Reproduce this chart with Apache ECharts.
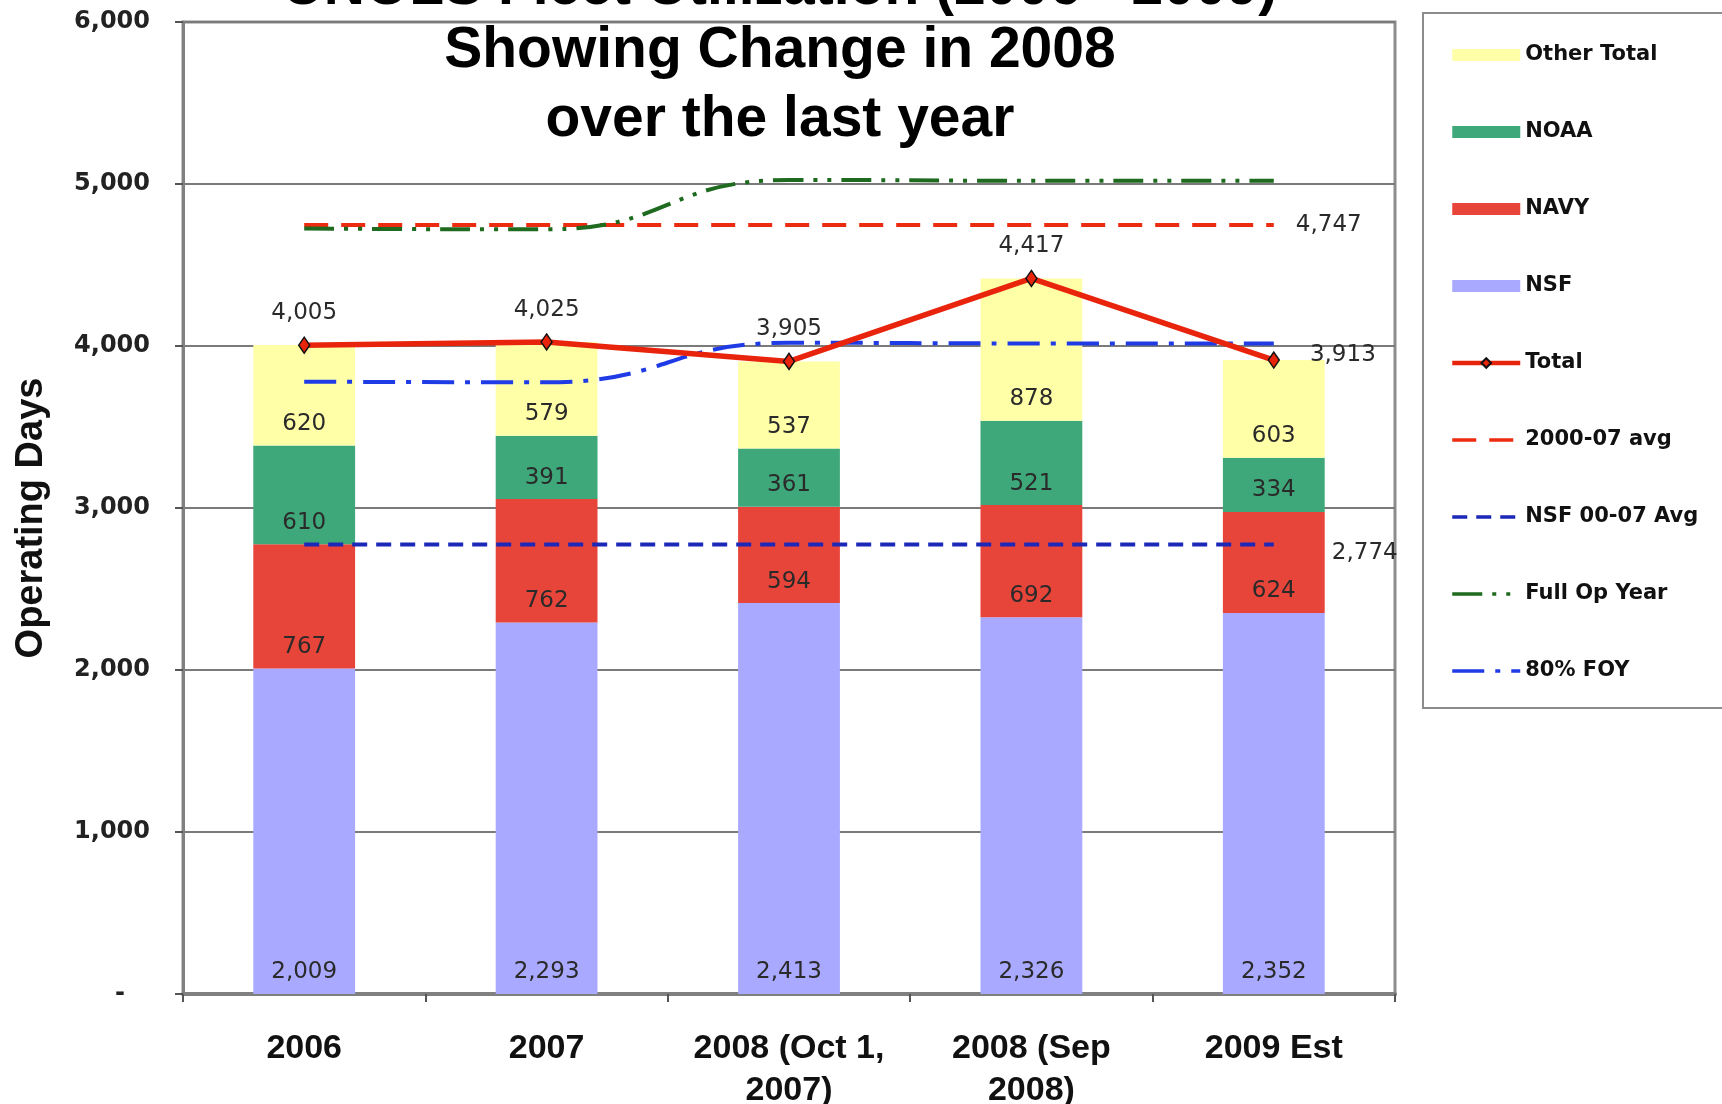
<!DOCTYPE html>
<html>
<head>
<meta charset="utf-8">
<title>UNOLS Fleet Utilization</title>
<script src="https://cdn.jsdelivr.net/npm/echarts@6/dist/echarts.min.js"></script>
<style>
  html, body { margin: 0; padding: 0; background: #fff; }
  #chart { width: 1722px; height: 1104px; }
</style>
</head>
<body>
<div id="chart"></div>
<script>
// chart data
const categories = ["2006", "2007", "2008 (Oct 1,\n2007)", "2008 (Sep\n2008)", "2009 Est"];
const nsf = [2009, 2293, 2413, 2326, 2352];
const navy = [767, 762, 594, 692, 624];
const noaa = [610, 391, 361, 521, 334];
const otherTotal = [620, 579, 537, 878, 603];
const total = [4005, 4025, 3905, 4417, 3913];
const avg0007 = [4747, 4747, 4747, 4747, 4747];
const nsfAvg0007 = [2774, 2774, 2774, 2774, 2774];
const fullOpYear = [4725, 4720, 5025, 5020, 5020];
const foy80 = [3780, 3776, 4020, 4016, 4016];
const yTickLabels = ["-   ", "1,000", "2,000", "3,000", "4,000", "5,000", "6,000"];
const titleLines = ["UNOLS Fleet Utilization (2006 - 2009)", "Showing Change in 2008", "over the last year"];

document.addEventListener("DOMContentLoaded", function () {
  const chart = echarts.init(document.getElementById("chart"));

  const fmt = function (v) {
    return Number(v).toLocaleString("en-US");
  };
  const labelFont = {
    fontFamily: "DejaVu Sans",
    fontSize: 23,
    color: "#2a2a2a",
  };
  const titleFont = {
    fontFamily: "Liberation Sans",
    fontWeight: "bold",
    fontSize: 57,
    color: "#000",
  };

  function barSeries(name, data, color) {
    return {
      name: name,
      type: "bar",
      stack: "days",
      data: data,
      barWidth: "42%",
      itemStyle: { color: color },
      label: Object.assign({
        show: true,
        position: "insideBottom",
        distance: 10,
        formatter: function (p) { return fmt(p.value); },
      }, labelFont),
      z: 2,
    };
  }

  // legend entries for plain lines: hide the marker dot
  const noDot = { opacity: 0 };

  const option = {
    animation: false,
    backgroundColor: "#fff",
    title: {
      text: titleLines[0],
      subtext: titleLines.slice(1).join("\n"),
      left: 780,
      top: -40,
      padding: 0,
      itemGap: 0,
      textAlign: "center",
      textStyle: Object.assign({ lineHeight: 57 }, titleFont),
      subtextStyle: Object.assign({ lineHeight: 69 }, titleFont),
    },
    legend: {
      orient: "vertical",
      left: 1423,
      top: 13,
      padding: [30, 40, 25, 27],
      itemWidth: 68,
      itemHeight: 12,
      itemGap: 53,
      borderColor: "#8c8c8c",
      borderWidth: 2,
      lineStyle: { width: 3.5 },
      textStyle: {
        fontFamily: "DejaVu Sans",
        fontWeight: "bold",
        fontSize: 21,
        lineHeight: 24,
        color: "#111",
      },
      data: [
        { name: "Other Total", icon: "rect" },
        { name: "NOAA", icon: "rect" },
        { name: "NAVY", icon: "rect" },
        { name: "NSF", icon: "rect" },
        { name: "Total", lineStyle: { width: 4.5 } },
        { name: "2000-07 avg", itemStyle: noDot },
        { name: "NSF 00-07 Avg", itemStyle: noDot },
        { name: "Full Op Year", itemStyle: noDot },
        { name: "80% FOY", itemStyle: noDot },
      ],
    },
    grid: {
      left: 183,
      right: 327,
      top: 22,
      bottom: 110,
      outerBoundsMode: "none",
      containLabel: false,
      show: true,
      borderColor: "#8c8c8c",
      borderWidth: 3,
    },
    xAxis: {
      type: "category",
      data: categories,
      axisLine: { lineStyle: { color: "#808080", width: 4 } },
      axisTick: { show: true, interval: 0, length: 8, lineStyle: { color: "#555", width: 2 } },
      axisLabel: {
        interval: 0,
        margin: 34,
        fontFamily: "Liberation Sans",
        fontWeight: "bold",
        fontSize: 34,
        lineHeight: 42,
        color: "#111",
      },
    },
    yAxis: {
      type: "value",
      min: 0,
      max: 6000,
      interval: 1000,
      name: "Operating Days",
      nameLocation: "middle",
      nameGap: 132,
      nameTextStyle: {
        fontFamily: "Liberation Sans",
        fontWeight: "bold",
        fontSize: 38,
        color: "#111",
        padding: [0, 0, 0, -20],
      },
      axisLine: { show: true, lineStyle: { color: "#808080", width: 3 } },
      axisTick: { show: true, length: 8, lineStyle: { color: "#555", width: 2 } },
      axisLabel: {
        margin: 33,
        fontFamily: "DejaVu Sans",
        fontWeight: "bold",
        fontSize: 24,
        color: "#222",
        formatter: function (v) { return yTickLabels[Math.round(v / 1000)]; },
      },
      splitLine: { lineStyle: { color: "#7a7a7a", width: 2 } },
    },
    series: [
      barSeries("NSF", nsf, "#a9aaff"),
      barSeries("NAVY", navy, "#e8453a"),
      barSeries("NOAA", noaa, "#3ea87a"),
      barSeries("Other Total", otherTotal, "#ffffa8"),
      {
        name: "NSF 00-07 Avg",
        type: "line",
        data: nsfAvg0007,
        symbol: "none",
        lineStyle: { color: "#1c28b8", width: 4, type: [15, 9] },
        itemStyle: { color: "#1c28b8" },
        endLabel: Object.assign({
          show: true,
          distance: 58,
          offset: [0, 8],
          formatter: function (p) { return fmt(p.value); },
        }, labelFont),
        z: 3,
      },
      {
        name: "2000-07 avg",
        type: "line",
        data: avg0007,
        symbol: "none",
        lineStyle: { color: "#ec2c10", width: 4, type: [24, 13] },
        itemStyle: { color: "#ec2c10" },
        endLabel: Object.assign({
          show: true,
          distance: 22,
          formatter: function (p) { return fmt(p.value); },
        }, labelFont),
        z: 3,
      },
      {
        name: "Full Op Year",
        type: "line",
        data: fullOpYear,
        smooth: true,
        symbol: "none",
        lineStyle: { color: "#1e6a1e", width: 4, type: [30, 10, 4, 10, 4, 10] },
        itemStyle: { color: "#1e6a1e" },
        z: 3,
      },
      {
        name: "80% FOY",
        type: "line",
        data: foy80,
        smooth: true,
        symbol: "none",
        lineStyle: { color: "#1f3be5", width: 4, type: [32, 11, 5, 11] },
        itemStyle: { color: "#1f3be5" },
        z: 3,
      },
      {
        name: "Total",
        type: "line",
        data: total.map(function (v, i) {
          if (i === total.length - 1) {
            return { value: v, label: { position: "right", distance: 30, offset: [0, -5] } };
          }
          return v;
        }),
        symbol: "diamond",
        symbolSize: [11, 16],
        lineStyle: { color: "#e8240c", width: 5.5 },
        itemStyle: { color: "#e8240c", borderColor: "#111", borderWidth: 1.5 },
        label: Object.assign({
          show: true,
          position: "top",
          distance: 12,
          formatter: function (p) { return fmt(p.value); },
        }, labelFont),
        z: 4,
      },
    ],
  };

  chart.setOption(option);
  window.addEventListener("resize", function () {
    chart.resize();
  });
});
</script>
</body>
</html>
